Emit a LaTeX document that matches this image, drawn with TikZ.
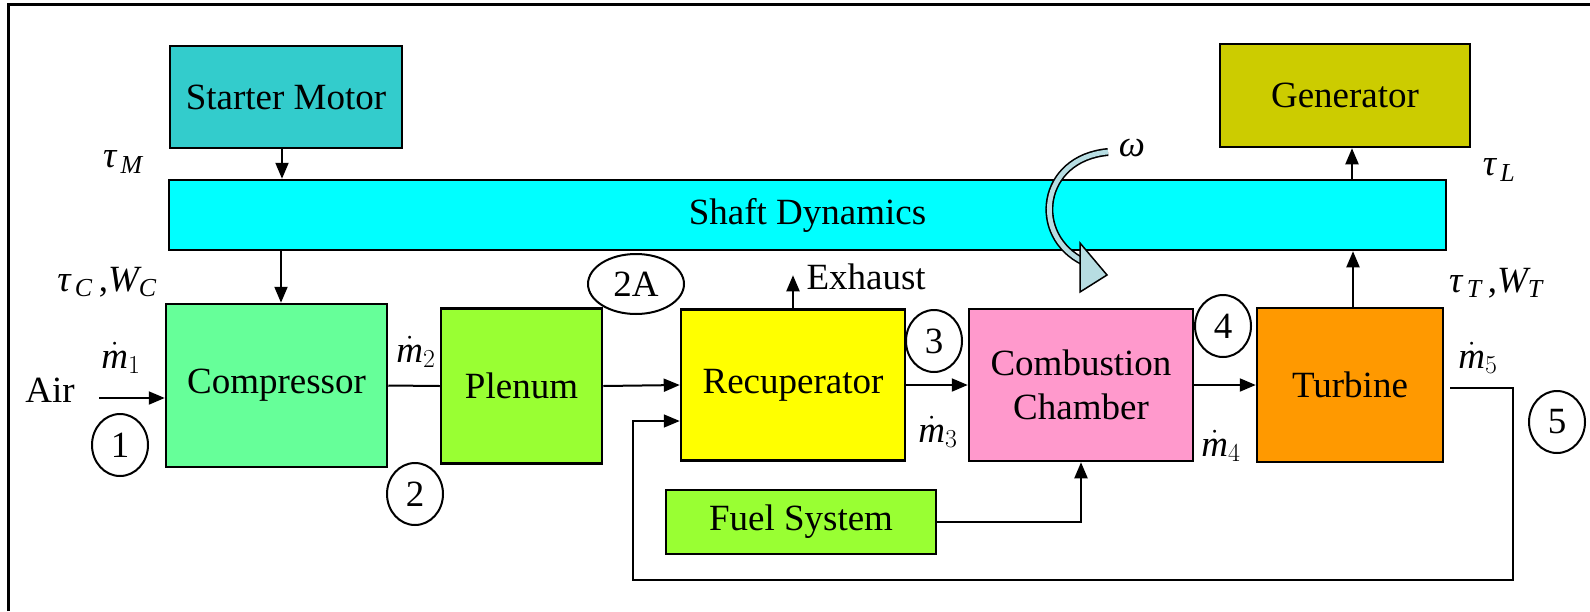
\RequirePackage{fix-cm}
\documentclass[tikz,border=0pt]{standalone}
\usepackage{fontspec}
\setmainfont{Liberation Serif}
\newfontfamily\timesfont{Liberation Serif}
\usetikzlibrary{arrows.meta,shapes.geometric}

\definecolor{startc}{RGB}{51,204,204}
\definecolor{shaftc}{RGB}{0,255,255}
\definecolor{genc}{RGB}{204,204,0}
\definecolor{compc}{RGB}{102,255,153}
\definecolor{plenc}{RGB}{153,255,51}
\definecolor{recupc}{RGB}{255,255,0}
\definecolor{combc}{RGB}{255,153,204}
\definecolor{turbc}{RGB}{255,153,0}
\definecolor{omegac}{RGB}{183,221,226}

\newcommand{\mflow}[1]{$\dot{\mathit{m}}_{#1}$}
\newcommand{\torq}[1]{{\itshape τ}$_{\,\mathit{#1}}$}

\begin{document}
\begin{tikzpicture}[x=1pt,y=-1pt,font=\timesfont\fontsize{37}{44}\selectfont,
  blk/.style={draw,line width=2.5pt,inner sep=0pt,align=center},
  lbl/.style={inner sep=0pt},
  arr/.style={line width=2pt,-{Triangle[length=16pt,width=13pt]}},
  num/.style={draw,ellipse,line width=2pt,minimum width=56pt,minimum height=62pt,inner sep=0pt}]

\useasboundingbox (0,0) rectangle (1590,611);
\draw[line width=3pt] (8,611) -- (8,4) -- (1590,4);

% blocks
\node[blk,fill=startc,minimum width=232pt,minimum height=102pt] (starter) at (286,97) {Starter Motor};
\node[blk,fill=shaftc,minimum width=1277pt,minimum height=70pt] (shaft) at (807.5,215) {Shaft Dynamics};
\node[blk,fill=genc,minimum width=250pt,minimum height=103pt] (gen) at (1345,95.5) {Generator};
\node[blk,fill=compc,minimum width=221pt,minimum height=163pt] (comp) at (276.5,385.5) {Compressor};
\node[blk,fill=plenc,minimum width=161pt,minimum height=155pt] (plen) at (521.5,386) {Plenum};
\node[blk,fill=recupc,minimum width=224pt,minimum height=151pt] (recup) at (793,385) {Recuperator};
\node[blk,fill=combc,minimum width=224pt,minimum height=152pt] (comb) at (1081,385) {Combustion\\Chamber};
\node[blk,fill=turbc,minimum width=186pt,minimum height=154pt] (turb) at (1350,385) {Turbine};
\node[blk,fill=plenc,minimum width=270pt,minimum height=64pt] (fuel) at (801,522) {Fuel System};

% station numbers
\node[num] (s1) at (120,445) {1};
\node[num] (s2) at (415,494) {2};
\node[num,minimum width=96pt,minimum height=60pt] (s2a) at (636,284) {2A};
\node[num] (s3) at (934,341) {3};
\node[num] (s4) at (1223,326) {4};
\node[num] (s5) at (1557,422) {5};

% labels
\node[lbl] (air) at (50,390) {Air};
\node[lbl] (m1) at (121,358) {\mflow{1}};
\node[lbl] (m2) at (416,352) {\mflow{2}};
\node[lbl] (m3) at (938,432) {\mflow{3}};
\node[lbl] (m4) at (1221,446) {\mflow{4}};
\node[lbl] (m5) at (1478,358) {\mflow{5}};
\node[lbl] (tm) at (123,162) {\torq{M}};
\node[lbl] (tc) at (107,282) {\torq{C}\,,$\mathit{W}_{\mathit{C}}$};
\node[lbl] (tl) at (1499,170) {\torq{L}};
\node[lbl] (tt) at (1496,283) {\torq{T}\,,$\mathit{W}_{\mathit{T}}$};
\node[lbl] (om) at (1132,148) {\itshape ω};

% shaft connections
\draw[arr] ([xshift=-4pt]starter.south) -- ([xshift=-4pt]starter.south |- shaft.north);
\draw[arr] ([xshift=4.5pt]comp.north |- shaft.south) -- ([xshift=4.5pt]comp.north);
\draw[arr] ([xshift=3pt]turb.north) -- ([xshift=3pt]turb.north |- shaft.south);
\draw[arr] ([xshift=7pt]gen.south |- shaft.north) -- ([xshift=7pt]gen.south);

% gas path
\coordinate (airin) at (99,398);
\draw[arr] (airin) -- (airin -| comp.west);
\draw[line width=2pt] (comp.east) -- (plen.west);
\draw[arr] (plen.east) -- (recup.west);
\draw[arr] (recup.east) -- (comb.west);
\draw[arr] (comb.east) -- (turb.east -| turb.west);
\draw[arr] (recup.north) -- ++(0,-33) coordinate (exh);
\node[anchor=west] (exhaust) at ([xshift=10pt,yshift=-2pt]exh) {Exhaust};
\draw[arr] (fuel.east) -| (comb.south);

% exhaust gas back to recuperator
\coordinate (fbA) at (1513,388);
\coordinate (fbB) at (1513,580);
\coordinate (fbC) at (633,580);
\coordinate (fbD) at (633,421);
\draw[line width=1.6pt,-{Triangle[length=16pt,width=13pt]}] ([xshift=6pt,yshift=-3pt]turb.east) -- (fbA) -- (fbB) -- (fbC) -- (fbD) -- (fbD -| recup.west);

% rotation arrow
\draw[line width=8pt] (1108,152) .. controls (1040,158) and (1030,236) .. (1084,262);
\draw[line width=4.8pt,omegac] (1108,152) .. controls (1040,158) and (1030,236) .. (1084,262);
\filldraw[fill=omegac,line width=1.5pt,line join=miter] (1080,243) -- (1107,275) -- (1080,292) -- cycle;

\end{tikzpicture}
\end{document}
